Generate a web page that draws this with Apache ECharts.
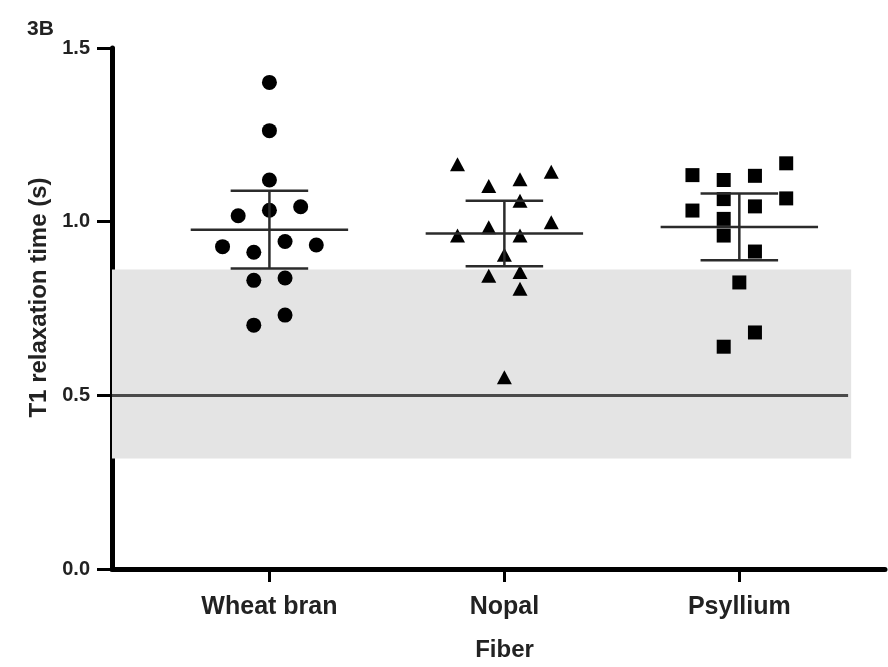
<!DOCTYPE html>
<html>
<head>
<meta charset="utf-8">
<style>
html,body{margin:0;padding:0;background:#fff;}
#chart{width:888px;height:667px;}
</style>
<script src="https://cdn.jsdelivr.net/npm/echarts@6/dist/echarts.min.js"></script>
</head>
<body>
<div id="chart"></div>
<script>
// ---- data ----
const categories = ['Wheat bran', 'Nopal', 'Psyllium'];
const categoryPos = [1, 2, 3];
const yTicks = [0, 0.5, 1.0, 1.5];

const wheatValues = [1.401, 1.262, 1.120, 1.043, 1.033, 1.017, 0.943, 0.933, 0.928, 0.912, 0.838, 0.831, 0.731, 0.702];
const wheatSlots  = [0, 0, 0, 2, 0, -2, 1, 3, -3, -1, 1, -1, 1, -1];

const nopalValues = [1.165, 1.144, 1.122, 1.103, 1.060, 0.998, 0.984, 0.960, 0.960, 0.905, 0.855, 0.844, 0.807, 0.552];
const nopalSlots  = [-3, 3, 1, -1, 1, 3, -1, -3, 1, 0, 1, -1, 1, 0];

const psylliumValues = [1.168, 1.134, 1.132, 1.120, 1.067, 1.065, 1.044, 1.032, 1.008, 0.960, 0.914, 0.825, 0.681, 0.640];
const psylliumSlots  = [3, -3, 1, -1, 3, -1, 1, -3, -1, -1, 1, 0, 1, -1];

const meanValues = [0.977, 0.966, 0.985];
const errValues  = [0.112, 0.094, 0.096];

const refBand = [0.318, 0.862];
const refLine = 0.5;

// ---- layout helpers ----
const jitterStep = 0.0665;
const xMin = 0.33, xMax = 3.62;
const bandEnd = 3.476, lineEnd = 3.463;
const meanHalf = 0.335, capHalf = 0.165;

function pts(values, slots, ci) {
  return values.map((v, i) => [categoryPos[ci] + slots[i] * jitterStep, v]);
}

const font = '"Liberation Sans", Arial, sans-serif';
const chart = echarts.init(document.getElementById('chart'));

chart.setOption({
  animation: false,
  backgroundColor: '#fff',
  title: {
    text: '3B', left: 22, top: 14,
    textStyle: { fontFamily: font, fontWeight: 'bold', fontSize: 21, color: '#222' }
  },
  grid: { left: 112, right: 3, top: 48, bottom: 95 },
  xAxis: {
    type: 'value', min: xMin, max: xMax,
    name: 'Fiber', nameLocation: 'middle', nameGap: 69,
    nameTextStyle: { fontFamily: font, fontWeight: 'bold', fontSize: 24, color: '#222', verticalAlign: 'top', padding: [0, 0, 0, 12] },
    axisLine: { show: true, onZero: false, lineStyle: { color: '#000', width: 5 } },
    axisTick: { show: true, customValues: categoryPos, length: 13, lineStyle: { color: '#000', width: 3 } },
    axisLabel: {
      customValues: categoryPos, margin: 26,
      formatter: v => categories[categoryPos.indexOf(Math.round(v))] || '',
      fontFamily: font, fontWeight: 'bold', fontSize: 25, color: '#222'
    },
    splitLine: { show: false }
  },
  yAxis: {
    type: 'value', min: 0, max: 1.5, interval: 0.5,
    name: 'T1 relaxation time (s)', nameLocation: 'middle', nameGap: 58,
    nameTextStyle: { fontFamily: font, fontWeight: 'bold', fontSize: 24, color: '#222', padding: [0, 0, 0, 22] },
    axisLine: { show: true, lineStyle: { color: '#000', width: 5 } },
    axisTick: { show: true, length: 15, lineStyle: { color: '#000', width: 3 } },
    axisLabel: {
      margin: 22, formatter: v => v.toFixed(1),
      fontFamily: font, fontWeight: 'bold', fontSize: 20, color: '#222'
    },
    splitLine: { show: false }
  },
  series: [
    {
      type: 'scatter', data: [], z: 1, silent: true,
      markArea: {
        silent: true,
        itemStyle: { color: '#e4e4e4' },
        data: [[{ coord: [xMin, refBand[1]] }, { coord: [bandEnd, refBand[0]] }]]
      },
      markLine: {
        silent: true, symbol: 'none', label: { show: false },
        lineStyle: { color: '#4a4a4a', width: 3, type: 'solid' },
        data: [[{ coord: [xMin, refLine] }, { coord: [lineEnd, refLine] }]]
      }
    },
    {
      type: 'scatter', name: categories[0], symbol: 'circle', symbolSize: 15, z: 3,
      itemStyle: { color: '#000', opacity: 1 }, data: pts(wheatValues, wheatSlots, 0)
    },
    {
      type: 'scatter', name: categories[1], symbol: 'triangle', symbolSize: [15, 14], z: 3,
      itemStyle: { color: '#000', opacity: 1 }, data: pts(nopalValues, nopalSlots, 1)
    },
    {
      type: 'scatter', name: categories[2], symbol: 'rect', symbolSize: 14, z: 3,
      itemStyle: { color: '#000', opacity: 1 }, data: pts(psylliumValues, psylliumSlots, 2)
    },
    {
      type: 'custom', z: 4, silent: true,
      data: categoryPos.map((p, i) => [p, meanValues[i], errValues[i]]),
      renderItem: function (params, api) {
        const x = api.value(0), m = api.value(1), e = api.value(2);
        const st = { stroke: '#2b2b2b', lineWidth: 2.5 };
        const seg = (a, b) => {
          const p1 = api.coord(a), p2 = api.coord(b);
          return { type: 'line', shape: { x1: p1[0], y1: p1[1], x2: p2[0], y2: p2[1] }, style: st };
        };
        return {
          type: 'group',
          children: [
            seg([x - meanHalf, m], [x + meanHalf, m]),
            seg([x, m - e], [x, m + e]),
            seg([x - capHalf, m + e], [x + capHalf, m + e]),
            seg([x - capHalf, m - e], [x + capHalf, m - e])
          ]
        };
      }
    }
  ]
});
</script>
</body>
</html>
